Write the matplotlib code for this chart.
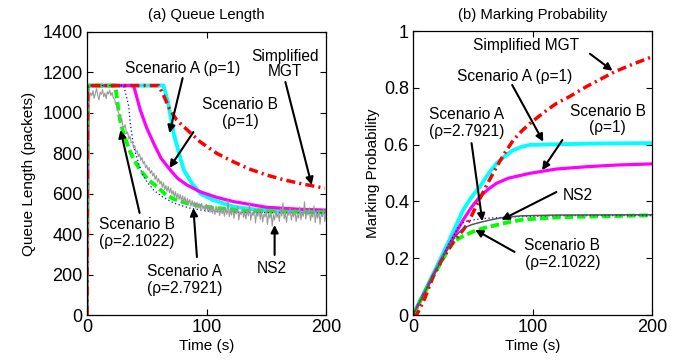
import matplotlib
matplotlib.use("Agg")
import numpy as np
import matplotlib.pyplot as plt

plt.rcParams["font.family"] = ["Liberation Sans", "DejaVu Sans"]

# ---------------- QUEUE LENGTH DATA ----------------
t_qA1 = [0, 0.5, 64, 68, 72.5, 77, 81, 88, 95, 105, 122.5, 140, 160, 180, 200]
q_qA1 = [0, 1135, 1135, 1047, 899, 800, 717, 650, 600, 570, 536, 522, 515, 512, 511]

t_qB1 = [0, 0.5, 39, 44.6, 50, 55.8, 62, 69.7, 76, 83.7, 94.6, 108, 122.5, 150, 178, 200]
q_qB1 = [0, 1135, 1135, 1014, 925, 849, 775, 717, 675, 643, 610, 583, 561, 533, 523, 519]

t_qMGT = [0, 0.5, 60, 64, 69, 75, 84, 94.6, 108.5, 122.5, 136, 150, 164, 178, 199]
q_qMGT = [0, 1135, 1135, 1088, 1020, 965, 915, 857, 800, 758, 722, 693, 670, 651, 627]

t_qA2 = [0, 0.5, 30.7, 33.5, 35, 36.2, 39, 43.2, 46, 50, 55.8, 63, 72.5, 85, 100, 130, 200]
q_qA2 = [0, 1135, 1135, 1070, 1030, 948, 833, 750, 701, 660, 618, 585, 554, 530, 515, 507, 505]

t_qB2 = [0, 0.5, 23.7, 26.5, 28, 31, 35, 39, 44.6, 51, 58.6, 65, 72, 85, 100, 130, 200]
q_qB2 = [0, 1135, 1135, 1006, 955, 890, 824, 770, 717, 670, 635, 600, 575, 550, 535, 515, 508]

t_ns2 = list(range(0, 201))
q_ns2 = [
    0, 30, 1075, 1098, 1085, 1110, 1072, 1095, 1120, 1088, 1064, 1102, 1091, 1115, 1080, 1098, 1070, 1105, 1093, 1112,
    1086, 1101, 1074, 1068, 1041, 1038, 1005, 992, 961, 973, 935, 928, 941, 897, 905, 871, 884, 852, 858, 826,
    838, 805, 812, 784, 796, 765, 779, 748, 760, 728, 741, 716, 730, 701, 715, 688, 702, 671, 690, 658,
    675, 648, 663, 632, 655, 621, 640, 612, 636, 604, 628, 598, 615, 585, 610, 578, 601, 572, 596, 566,
    590, 559, 585, 548, 577, 552, 571, 538, 566, 541, 560, 528, 557, 530, 549, 519, 552, 524, 541, 512,
    548, 515, 536, 508, 542, 503, 531, 497, 538, 506, 527, 492, 534, 501, 522, 488, 529, 498, 566, 485,
    520, 494, 531, 478, 515, 500, 538, 470, 512, 496, 527, 483, 509, 475, 521, 490, 547, 468, 506, 492,
    525, 455, 508, 488, 530, 472, 515, 460, 498, 485, 520, 448, 503, 479, 512, 440, 496, 470, 518, 482,
    507, 463, 526, 489, 555, 476, 502, 458, 514, 493, 528, 470, 505, 486, 521, 462, 498, 480, 534, 471,
    509, 488, 560, 475, 512, 494, 530, 466, 503, 484, 540, 458, 506, 479, 517, 450, 499, 487, 524, 462, 505,
]

# ---------------- MARKING PROBABILITY DATA ----------------
t_pA1 = [0, 10, 20, 30, 42, 49, 56, 63, 70, 77, 84, 91, 98, 110, 130, 160, 200]
p_pA1 = [0, 0.085, 0.172, 0.26, 0.37, 0.415, 0.452, 0.497, 0.534, 0.56, 0.581, 0.592, 0.599, 0.600, 0.602, 0.604, 0.605]

t_pB1 = [0, 10, 20, 30, 42, 49, 56, 63, 70, 80, 98, 120, 145, 170, 200]
p_pB1 = [0, 0.083, 0.165, 0.245, 0.335, 0.38, 0.417, 0.443, 0.464, 0.482, 0.499, 0.514, 0.522, 0.528, 0.532]

t_pMGT = [0, 3, 10, 16.7, 25, 33.5, 43, 48, 53, 62, 70, 77, 84, 91, 98, 110, 120, 131, 145, 169, 185, 200]
p_pMGT = [0, 0.0, 0.06, 0.135, 0.20, 0.255, 0.305, 0.34, 0.385, 0.46, 0.522, 0.572, 0.616, 0.648, 0.675, 0.715, 0.745, 0.769, 0.804, 0.857, 0.885, 0.909]

t_pA2 = [0, 10, 20, 30, 38, 42, 46, 52, 60, 80, 120, 200]
p_pA2 = [0, 0.083, 0.165, 0.248, 0.31, 0.325, 0.332, 0.336, 0.34, 0.345, 0.35, 0.35]

t_pB2 = [0, 10, 20, 28, 33.5, 42, 50, 60, 70, 80, 92, 120, 160, 200]
p_pB2 = [0, 0.08, 0.16, 0.22, 0.258, 0.278, 0.293, 0.307, 0.317, 0.327, 0.336, 0.344, 0.348, 0.351]

t_pns2 = [0, 10, 20, 28, 35, 42, 49, 56, 65, 75, 90, 120, 200]
p_pns2 = [0, 0.082, 0.163, 0.226, 0.275, 0.305, 0.318, 0.326, 0.335, 0.343, 0.349, 0.352, 0.353]

q_ticks = [0, 200, 400, 600, 800, 1000, 1200, 1400]
p_ticks = [0, 0.2, 0.4, 0.6, 0.8, 1]
p_ticklabels = ["0", "0.2", "0.4", "0.6", "0.8", "1"]
x_ticks = [0, 100, 200]

# ---------------- STYLES ----------------
s_A1 = dict(color="#00ffff", lw=2.8)
s_B1 = dict(color="#ff00ff", lw=2.3)
s_MGT = dict(color="#ff0000", lw=2.5, linestyle=(0, (2.6, 1.2, 0.6, 1.2)))
s_A2 = dict(color="#0000ff", lw=0.9, linestyle=(0, (1, 2)))
s_B2 = dict(color="#00ff00", lw=2.8, linestyle=(0, (2.2, 1.0)))

TXT = 11.2
ARROW = dict(arrowstyle="-|>", color="k", lw=1.5, mutation_scale=11, shrinkA=0, shrinkB=0)

fig = plt.figure(figsize=(6.91, 3.6), dpi=100)
ax1 = fig.add_axes([87 / 691, 45 / 360, 239 / 691, 283 / 360])
ax2 = fig.add_axes([413 / 691, 45 / 360, 239 / 691, 284 / 360])


def style_axes(ax):
    ax.set_xlim(0, 200)
    ax.set_xticks(x_ticks)
    ax.tick_params(direction="in", top=True, right=True, length=4, width=0.8,
                   labelsize=13, pad=3)
    for sp in ax.spines.values():
        sp.set_linewidth(0.9)
    ax.set_xlabel("Time (s)", fontsize=11, labelpad=2)


def arrow(ax, tail, tip):
    ax.annotate("", xy=tip, xytext=tail, arrowprops=ARROW)


# ---------------- (a) QUEUE LENGTH ----------------
ax1.plot(t_qA1, q_qA1, **s_A1)
ax1.plot(t_qB1, q_qB1, **s_B1)
ax1.plot(t_qB2, q_qB2, **s_B2)
ax1.plot(t_qA2, q_qA2, **s_A2)
ax1.plot(t_ns2, q_ns2, color="#999999", lw=0.8)
ax1.plot(t_qMGT, q_qMGT, **s_MGT)

style_axes(ax1)
ax1.set_ylim(0, 1400)
ax1.set_yticks(q_ticks)
ax1.set_ylabel("Queue Length (packets)", fontsize=11, labelpad=5)
ax1.set_title("(a) Queue Length", fontsize=10.7, pad=9)

ax1.text(80, 1217, "Scenario A (\u03c1=1)", fontsize=TXT, ha="center", va="center")
arrow(ax1, (80, 1172), (69, 900))
ax1.text(166, 1242, "Simplified\nMGT", fontsize=TXT, ha="center", va="center", linespacing=1.0)
arrow(ax1, (166, 1153), (188, 643))
ax1.text(128, 999, "Scenario B\n(\u03c1=1)", fontsize=TXT, ha="center", va="center", linespacing=1.1)
arrow(ax1, (89, 905), (69, 727))
ax1.text(42, 406, "Scenario B\n(\u03c1=2.1022)", fontsize=TXT, ha="center", va="center", linespacing=1.1)
arrow(ax1, (44, 505), (28, 915))
ax1.text(82, 173, "Scenario A\n(\u03c1=2.7921)", fontsize=TXT, ha="center", va="center", linespacing=1.1)
arrow(ax1, (92, 287), (89, 529))
ax1.text(155, 232, "NS2", fontsize=TXT, ha="center", va="center")
arrow(ax1, (157, 297), (157, 445))

# ---------------- (b) MARKING PROBABILITY ----------------
ax2.plot(t_pA1, p_pA1, **s_A1)
ax2.plot(t_pB1, p_pB1, **s_B1)
ax2.plot(t_pB2, p_pB2, **s_B2)
ax2.plot(t_pA2, p_pA2, **s_A2)
ax2.plot(t_pMGT, p_pMGT, **s_MGT)
ax2.plot(t_pns2, p_pns2, color="#555555", lw=1.1)

style_axes(ax2)
ax2.set_ylim(0, 1)
ax2.set_yticks(p_ticks)
ax2.set_yticklabels(p_ticklabels)
ax2.set_ylabel("Marking Probability", fontsize=11, labelpad=3)
ax2.set_title("(b) Marking Probability", fontsize=10.7, pad=9)

ax2.text(95, 0.95, "Simplified MGT", fontsize=TXT, ha="center", va="center")
arrow(ax2, (148, 0.92), (167, 0.86))
ax2.text(85, 0.84, "Scenario A (\u03c1=1)", fontsize=TXT, ha="center", va="center")
arrow(ax2, (83, 0.81), (109, 0.61))
ax2.text(163, 0.687, "Scenario B\n(\u03c1=1)", fontsize=TXT, ha="center", va="center", linespacing=1.1)
arrow(ax2, (125, 0.616), (108, 0.51))
ax2.text(45, 0.676, "Scenario A\n(\u03c1=2.7921)", fontsize=TXT, ha="center", va="center", linespacing=1.1)
arrow(ax2, (49, 0.605), (58, 0.33))
ax2.text(138, 0.42, "NS2", fontsize=TXT, ha="center", va="center")
arrow(ax2, (120, 0.433), (74, 0.335))
ax2.text(125, 0.215, "Scenario B\n(\u03c1=2.1022)", fontsize=TXT, ha="center", va="center", linespacing=1.1)
arrow(ax2, (85, 0.222), (52, 0.30))

fig.savefig("out.png", dpi=100)
